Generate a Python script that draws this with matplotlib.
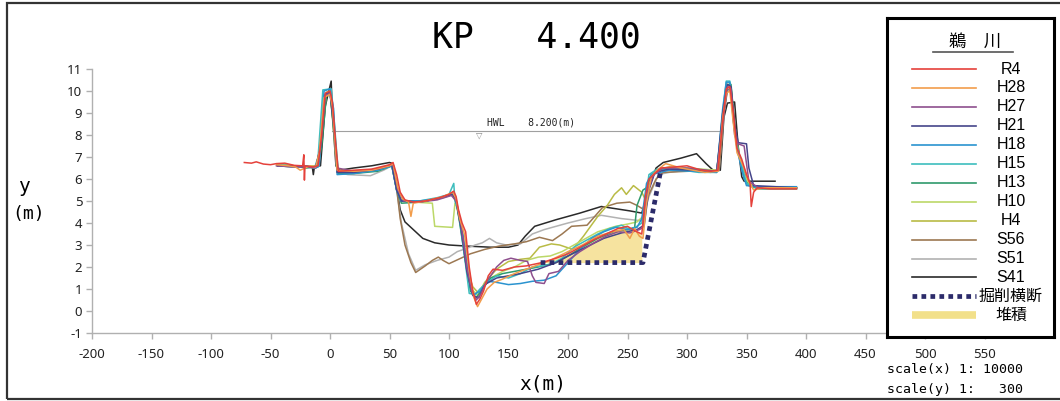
import numpy as np
import matplotlib
matplotlib.use("Agg")
import matplotlib.pyplot as plt
from matplotlib.patches import Rectangle

plt.rcParams['font.family'] = ['DejaVu Sans', 'Noto Sans CJK JP']
plt.rcParams['axes.unicode_minus'] = False

# --- data (x [m], y [m]) ---
R4 = [(-72, 6.75), (-66, 6.72), (-62, 6.78), (-56, 6.68), (-50, 6.65), (-45, 6.7), (-38, 6.72), (-30, 6.62),
      (-23, 6.6), (-22, 7.1), (-21.5, 5.95), (-21, 6.6), (-15, 6.55), (-10, 6.6), (-7, 8.0), (-4, 9.9), (0, 10.0),
      (2, 9.5), (5, 7.5), (7, 6.35), (20, 6.4), (35, 6.45), (50, 6.65), (53, 6.75), (56, 6.2), (59, 5.4),
      (63, 5.05), (70, 4.95), (80, 5.0), (92, 5.15), (100, 5.3), (104, 5.45), (106, 5.2), (108, 4.6), (111, 4.0),
      (114, 3.6), (117, 2.0), (120, 0.9), (123, 0.3), (126, 0.55), (129, 0.9), (133, 1.6), (137, 1.9), (145, 1.85),
      (155, 2.0), (165, 2.05), (178, 2.2), (190, 2.4), (200, 2.6), (212, 2.95), (222, 3.25), (232, 3.5),
      (242, 3.75), (250, 3.85), (256, 3.65), (262, 3.5), (265, 5.2), (268, 6.0), (272, 6.2), (278, 6.5),
      (290, 6.55), (300, 6.6), (312, 6.4), (320, 6.35), (326, 6.4), (330, 8.6), (333, 10.1), (336, 10.2),
      (339, 9.0), (342, 7.4), (346, 6.9), (350, 6.2), (353, 5.8), (354, 4.75), (356, 5.4), (359, 5.6),
      (370, 5.55), (392, 5.55)]
H28 = [(-45, 6.65), (-35, 6.6), (-29, 6.55), (-25, 6.4), (-17, 6.6), (-12, 6.55), (-9, 7.2), (-5, 9.7),
       (0, 9.85), (2, 9.3), (6, 6.4), (20, 6.35), (35, 6.4), (50, 6.6), (53, 6.7), (57, 5.6), (61, 5.1),
       (66, 4.95), (68, 4.3), (70, 4.9), (80, 5.0), (95, 5.2), (103, 5.4), (106, 5.1), (109, 4.2), (113, 3.5),
       (117, 1.8), (121, 0.6), (124, 0.2), (127, 0.5), (132, 1.0), (138, 1.3), (145, 1.45), (155, 1.7),
       (170, 2.0), (185, 2.3), (200, 2.7), (212, 3.0), (225, 3.4), (237, 3.6), (247, 3.7), (252, 3.3),
       (256, 3.75), (260, 3.4), (263, 3.3), (266, 4.9), (270, 6.1), (275, 6.4), (282, 6.7), (295, 6.5),
       (305, 6.4), (315, 6.3), (326, 6.35), (330, 8.8), (333, 9.9), (336, 10.0), (339, 8.5), (342, 7.2),
       (348, 6.5), (352, 5.9), (356, 5.5), (365, 5.6), (392, 5.6)]
H27 = [(-45, 6.6), (-30, 6.55), (-20, 6.55), (-12, 6.5), (-8, 7.5), (-4, 9.8), (0, 9.9), (2, 9.4), (6, 6.5),
       (20, 6.35), (40, 6.45), (53, 6.65), (57, 5.5), (62, 5.0), (75, 4.95), (90, 5.05), (102, 5.25), (106, 5.0),
       (110, 4.0), (115, 2.0), (119, 0.9), (123, 0.5), (127, 0.8), (131, 1.3), (135, 1.6), (140, 2.0),
       (146, 2.3), (152, 2.4), (160, 2.3), (166, 2.25), (170, 1.6), (173, 1.3), (180, 1.25), (184, 1.7),
       (192, 1.8), (200, 2.3), (210, 2.7), (222, 3.1), (232, 3.4), (242, 3.6), (252, 3.55), (260, 3.7),
       (263, 3.8), (267, 5.5), (272, 6.2), (280, 6.5), (300, 6.5), (325, 6.35), (330, 8.5), (334, 10.2),
       (337, 10.1), (340, 8.0), (343, 7.6), (348, 7.5), (352, 5.9), (360, 5.6), (392, 5.6)]
H21 = [(-44, 6.6), (-30, 6.6), (-20, 6.55), (-12, 6.55), (-8, 7.4), (-4, 9.85), (0, 9.95), (3, 8.4), (6, 6.3),
       (20, 6.3), (40, 6.45), (52, 6.65), (56, 5.5), (60, 5.0), (75, 4.95), (90, 5.1), (103, 5.3), (106, 5.0),
       (110, 3.8), (115, 1.8), (120, 0.7), (125, 0.6), (130, 1.2), (140, 1.5), (150, 1.6), (160, 1.7),
       (175, 1.9), (190, 2.2), (200, 2.5), (215, 2.9), (230, 3.3), (245, 3.55), (258, 3.7), (264, 3.9),
       (268, 5.5), (273, 6.3), (285, 6.45), (305, 6.4), (325, 6.35), (330, 9.0), (334, 10.3), (337, 10.2),
       (340, 8.5), (343, 7.65), (350, 7.6), (352, 6.5), (356, 5.7), (392, 5.6)]
H18 = [(-44, 6.6), (-30, 6.55), (-20, 6.6), (-12, 6.5), (-9, 6.6), (-5, 10.0), (0, 10.1), (3, 9.2), (6, 6.2),
       (20, 6.25), (40, 6.4), (52, 6.6), (56, 5.5), (60, 5.0), (75, 5.0), (90, 5.1), (103, 5.35), (106, 5.0),
       (109, 4.2), (112, 3.4), (118, 1.1), (121, 0.75), (126, 0.9), (133, 1.35), (140, 1.3), (150, 1.2),
       (160, 1.25), (170, 1.35), (180, 1.4), (190, 1.6), (200, 2.2), (210, 2.8), (220, 3.3), (230, 3.6),
       (240, 3.8), (250, 3.7), (258, 3.8), (262, 4.2), (266, 5.8), (270, 6.2), (285, 6.4), (305, 6.35),
       (325, 6.3), (330, 9.2), (333, 10.4), (336, 10.4), (339, 8.6), (342, 7.4), (346, 6.4), (350, 5.7),
       (360, 5.65), (392, 5.65)]
H15 = [(-44, 6.65), (-30, 6.6), (-20, 6.6), (-13, 6.5), (-10, 7.0), (-6, 10.05), (1, 10.1), (3, 9.0), (7, 6.3),
       (20, 6.3), (40, 6.4), (52, 6.6), (56, 5.5), (60, 5.0), (75, 5.0), (90, 5.15), (100, 5.3), (104, 5.8),
       (105, 5.0), (108, 4.5), (113, 2.5), (117, 0.8), (122, 0.75), (126, 1.0), (132, 1.3), (140, 1.6),
       (150, 1.5), (160, 1.7), (170, 2.0), (185, 2.1), (195, 2.4), (205, 2.9), (215, 3.2), (225, 3.5),
       (235, 3.75), (245, 3.9), (252, 3.7), (258, 3.85), (262, 4.0), (265, 5.0), (268, 6.2), (275, 6.45),
       (290, 6.45), (310, 6.3), (325, 6.3), (330, 9.0), (333, 10.45), (336, 10.45), (339, 8.8), (342, 7.5),
       (346, 6.6), (350, 5.8), (355, 5.65), (370, 5.6), (392, 5.6)]
H13 = [(-44, 6.6), (-30, 6.6), (-20, 6.5), (-10, 6.55), (-7, 7.5), (-3, 9.8), (0, 9.95), (3, 8.3), (7, 6.25),
       (20, 6.25), (40, 6.35), (52, 6.6), (56, 5.5), (60, 4.9), (75, 4.95), (90, 5.1), (103, 5.35), (106, 5.0),
       (109, 4.0), (114, 2.2), (118, 0.9), (123, 0.6), (128, 1.0), (135, 1.5), (145, 1.7), (160, 1.85),
       (175, 2.0), (190, 2.2), (200, 2.5), (212, 2.9), (225, 3.3), (238, 3.6), (250, 3.7), (256, 3.8),
       (258, 4.8), (263, 5.5), (266, 5.6), (270, 6.2), (280, 6.45), (300, 6.45), (325, 6.35), (331, 9.0),
       (334, 10.3), (337, 10.3), (340, 8.5), (343, 7.3), (348, 6.0), (352, 5.7), (360, 5.55), (392, 5.55)]
H10 = [(-44, 6.65), (-30, 6.6), (-20, 6.6), (-10, 6.6), (-6, 8.5), (-3, 9.95), (0, 10.0), (3, 8.2), (6, 6.3),
       (20, 6.3), (40, 6.4), (52, 6.6), (56, 5.6), (60, 5.0), (70, 4.95), (86, 4.9), (88, 3.85), (103, 3.8),
       (105, 4.9), (107, 4.7), (110, 4.0), (115, 2.1), (119, 1.0), (124, 0.7), (128, 1.1), (135, 1.5),
       (145, 1.8), (155, 2.0), (165, 2.3), (175, 2.45), (185, 2.5), (195, 2.7), (205, 3.0), (215, 3.3),
       (225, 3.6), (240, 3.85), (250, 3.95), (258, 4.05), (265, 4.4), (268, 5.8), (273, 6.3), (285, 6.5),
       (300, 6.5), (325, 6.4), (331, 9.0), (334, 10.3), (337, 10.2), (340, 8.4), (343, 7.3), (348, 6.2),
       (352, 5.75), (360, 5.6), (392, 5.6)]
H4 = [(-44, 6.6), (-30, 6.6), (-20, 6.55), (-11, 6.55), (-7, 8.0), (-3, 9.9), (0, 10.0), (3, 8.6), (6, 6.3),
      (20, 6.35), (40, 6.45), (52, 6.65), (56, 5.5), (60, 5.0), (80, 5.0), (95, 5.15), (103, 5.3), (106, 4.9),
      (110, 3.8), (115, 1.9), (120, 1.1), (125, 0.8), (130, 1.3), (140, 1.9), (150, 2.25), (160, 2.35),
      (168, 2.4), (176, 2.9), (186, 3.05), (193, 3.0), (204, 2.8), (213, 3.4), (225, 4.3), (233, 4.8),
      (239, 5.3), (245, 5.6), (249, 5.3), (255, 5.7), (262, 5.4), (266, 4.95), (269, 6.0), (274, 6.4),
      (285, 6.55), (300, 6.5), (325, 6.35), (331, 9.2), (334, 10.2), (337, 10.1), (340, 8.4), (343, 7.2),
      (348, 6.2), (352, 5.8), (360, 5.6), (392, 5.6)]
S56 = [(-44, 6.6), (-30, 6.55), (-20, 6.6), (-11, 6.55), (-7, 8.0), (-3, 9.9), (0, 10.0), (3, 8.5), (6, 6.35),
       (20, 6.3), (40, 6.4), (52, 6.65), (56, 5.6), (59, 4.2), (63, 3.0), (68, 2.2), (72, 1.75), (80, 2.05),
       (86, 2.3), (91, 2.45), (95, 2.3), (100, 2.15), (108, 2.35), (118, 2.6), (130, 2.8), (142, 2.95),
       (155, 3.05), (165, 3.15), (176, 3.35), (187, 3.2), (195, 3.5), (203, 3.85), (216, 3.9), (229, 4.7),
       (241, 4.9), (252, 4.95), (258, 4.8), (264, 4.6), (268, 5.3), (274, 6.0), (280, 6.3), (300, 6.35),
       (322, 6.4), (327, 6.4), (331, 9.0), (334, 10.1), (337, 10.0), (340, 8.5), (343, 7.3), (348, 6.3),
       (352, 5.8), (360, 5.6), (392, 5.6)]
S51 = [(-44, 6.6), (-30, 6.55), (-20, 6.55), (-12, 6.5), (-8, 7.5), (-4, 9.8), (0, 9.9), (3, 8.5), (6, 6.3),
       (15, 6.2), (34, 6.15), (45, 6.4), (52, 6.6), (56, 5.5), (60, 4.0), (66, 2.6), (72, 1.85), (80, 2.1),
       (90, 2.3), (100, 2.45), (107, 2.7), (115, 2.85), (122, 3.0), (128, 3.1), (134, 3.3), (140, 3.1),
       (148, 3.0), (160, 3.05), (170, 3.5), (180, 3.7), (200, 4.0), (215, 4.2), (228, 4.35), (245, 4.2),
       (262, 4.1), (268, 5.2), (276, 6.2), (285, 6.3), (300, 6.4), (320, 6.3), (327, 6.4), (331, 9.0),
       (334, 10.0), (337, 10.0), (340, 8.2), (344, 7.0), (349, 6.1), (353, 5.7), (360, 5.65), (376, 5.65)]
S41 = [(-44, 6.65), (-30, 6.6), (-20, 6.6), (-15, 6.6), (-14, 6.2), (-13, 6.6), (-8, 6.6), (-4, 9.3),
       (-1, 10.0), (1, 10.45), (2, 9.0), (5, 6.6), (8, 6.4), (20, 6.5), (35, 6.6), (50, 6.75), (53, 6.7),
       (56, 5.6), (59, 4.6), (63, 4.05), (70, 3.7), (78, 3.3), (88, 3.1), (100, 3.0), (115, 2.95), (135, 2.9),
       (150, 2.9), (158, 3.0), (164, 3.4), (172, 3.85), (190, 4.15), (210, 4.45), (228, 4.75), (240, 4.65),
       (252, 4.55), (262, 4.45), (268, 5.6), (274, 6.5), (280, 6.75), (295, 6.95), (308, 7.15), (316, 6.7),
       (323, 6.35), (328, 6.4), (331, 8.8), (334, 9.45), (340, 9.5), (343, 7.5), (346, 6.1), (348, 5.9),
       (374, 5.9)]

series_names = ["R4", "H28", "H27", "H21", "H18", "H15", "H13", "H10", "H4", "S56", "S51", "S41"]
series_data = [R4, H28, H27, H21, H18, H15, H13, H10, H4, S56, S51, S41]
series_colors = ["#e5413b", "#f29d4b", "#8e4f8e", "#45458a", "#2a93cf", "#3dbdbd", "#2f9a6c",
                 "#bcd868", "#b9bb45", "#9c7852", "#b2b2b2", "#2a2a2a"]

excav_x = [177, 263, 278]   # 掘削横断
excav_y = [2.2, 2.2, 6.4]
hwl = 8.2
hwl_x = [2, 327]

xticks = list(range(-200, 551, 50))
yticks = list(range(-1, 12))

# --- figure ---
W, H = 1060, 401
fig = plt.figure(figsize=(W / 100, H / 100), dpi=100)
fig.patches.append(Rectangle((6.5 / W, 2.5 / H), 1.2, 396 / H, transform=fig.transFigure,
                             fill=False, edgecolor="#333333", linewidth=1.6))

ax = fig.add_axes([92 / W, 1 - 333 / H, (1044 - 92) / W, (333 - 69) / H])
ax.set_xlim(-200, 600)
ax.set_ylim(-1, 11)
ax.set_xticks(xticks)
ax.set_yticks(yticks)
for sp in ["top", "right"]:
    ax.spines[sp].set_visible(False)
for sp in ["left", "bottom"]:
    ax.spines[sp].set_color("#b0b0b0")
    ax.spines[sp].set_linewidth(1.0)
ax.tick_params(axis="both", colors="#b0b0b0", length=4, width=1.0, labelcolor="#222222")
ax.tick_params(axis="x", pad=7)
ax.tick_params(axis="y", pad=3)
for lab in ax.get_xticklabels() + ax.get_yticklabels():
    lab.set_fontfamily("Noto Sans")
    lab.set_fontsize(9.5)

# HWL
ax.plot(hwl_x, [hwl, hwl], color="#a0a0a0", lw=0.8, zorder=1)
ax.text(125, hwl, "▽", fontsize=6, color="#888888", ha="center", va="top", zorder=2)
ax.text(132, hwl + 0.12, "HWL    8.200(m)", fontsize=7, family="DejaVu Sans Mono",
        ha="left", va="bottom", color="#222222")

# deposition fill between current bed and excavation line
r4 = np.array(R4)
m = (r4[:, 0] >= excav_x[0]) & (r4[:, 0] <= excav_x[1])
ax.fill_between(r4[m, 0], excav_y[0], r4[m, 1], where=r4[m, 1] >= excav_y[0],
                color="#f5df8e", alpha=0.85, lw=0, zorder=2)

for name, data, c in reversed(list(zip(series_names, series_data, series_colors))):
    d = np.array(data)
    ax.plot(d[:, 0], d[:, 1], color=c, lw=1.1, zorder=3)

excav_style = dict(color="#2c2b6a", lw=3.4, linestyle=(0, (1, 0.9)), dash_capstyle="butt")
ax.plot(excav_x, excav_y, zorder=4, **excav_style)

# titles / labels
mono = "DejaVu Sans Mono"
fig.text(536 / W, 1 - 37 / H, "KP   4.400", family=mono, fontsize=25, ha="center", va="center")
fig.text(543 / W, 1 - 384 / H, "x(m)", family=mono, fontsize=14, ha="center", va="center")
fig.text(24 / W, 1 - 196 / H, "y", family=mono, fontsize=14, ha="center", va="bottom")
fig.text(29 / W, 1 - 205 / H, "(m)", family=mono, fontsize=13, ha="center", va="top")
fig.text(887 / W, 1 - 369 / H, "scale(x) 1: 10000", family=mono, fontsize=9.5, ha="left", va="center")
fig.text(887 / W, 1 - 389 / H, "scale(y) 1:   300", family=mono, fontsize=9.5, ha="left", va="center")

# custom legend box
lg = fig.add_axes([887 / W, 1 - 337 / H, (1054 - 887) / W, (337 - 18) / H])
lg.set_xlim(887, 1054)
lg.set_ylim(337, 18)
lg.set_xticks([])
lg.set_yticks([])
for sp in lg.spines.values():
    sp.set_linewidth(2.2)
    sp.set_color("black")
lg.text(975, 42, "鵜　川", family=["Noto Sans CJK JP"], fontsize=12.5, ha="center", va="center")
lg.axhline(52, xmin=(933 - 887) / 167, xmax=(1013 - 887) / 167, color="#555555", lw=1.2)
row0, step = 69, 18.95
lab_font = ["Liberation Sans", "Noto Sans CJK JP"]
for i, (name, c) in enumerate(zip(series_names, series_colors)):
    y = row0 + i * step
    lg.plot([912, 976], [y, y], color=c, lw=1.2)
    lg.text(1011, y, name, family=lab_font, fontsize=11.5, ha="center", va="center")
y = row0 + len(series_names) * step
lg.plot([912, 976], [y, y], **excav_style)
lg.text(1011, y, "掘削横断", family=lab_font, fontsize=11.5, ha="center", va="center")
y += step
lg.plot([912, 976], [y, y], color="#f2e08a", lw=5.5, solid_capstyle="butt")
lg.text(1011, y, "堆積", family=lab_font, fontsize=11.5, ha="center", va="center")

fig.savefig("out.png", dpi=100)
